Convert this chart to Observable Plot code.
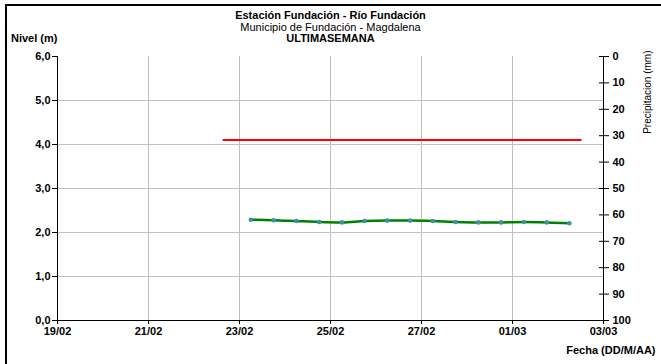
<!DOCTYPE html>
<html><head><meta charset="utf-8">
<script src="https://cdn.jsdelivr.net/npm/d3@7"></script>
<script src="https://cdn.jsdelivr.net/npm/@observablehq/plot@0.6"></script>
<style>
html,body{margin:0;padding:0;background:#fff;overflow:hidden}
#wrap{position:relative;width:661px;height:364px;overflow:hidden;font-family:"Liberation Sans",Arial,sans-serif;color:#000}
#frame{position:absolute;left:5px;top:4px;width:700px;height:400px;border:2px solid #000;pointer-events:none}
#head{position:relative;height:46px}
.t{position:absolute;left:0;width:661px;text-align:center;font-size:11px;line-height:12px;white-space:nowrap}
.b{font-weight:bold}
#nivel{position:absolute;left:11px;top:32px;font-size:11px;font-weight:bold;line-height:12px}
svg{display:block}
</style>
</head><body>
<div id="wrap">
  <div id="head">
    <div class="t b" style="top:9px">Estación Fundación - Río Fundación</div>
    <div class="t" style="top:21px">Municipio de Fundación - Magdalena</div>
    <div class="t b" style="top:32px">ULTIMASEMANA</div>
    <div id="nivel">Nivel (m)</div>
  </div>
  <div id="chart"></div>
  <div id="frame"></div>
</div>
<script>
// ---- data ----
const levelTimes = ["2023-02-23T06:00Z","2023-02-23T18:00Z","2023-02-24T06:00Z","2023-02-24T18:00Z","2023-02-25T06:00Z","2023-02-25T18:00Z","2023-02-26T06:00Z","2023-02-26T18:00Z","2023-02-27T06:00Z","2023-02-27T18:00Z","2023-02-28T06:00Z","2023-02-28T18:00Z","2023-03-01T06:00Z","2023-03-01T18:00Z","2023-03-02T06:00Z"];
const levelValues = [2.29,2.28,2.26,2.24,2.23,2.26,2.27,2.27,2.26,2.24,2.23,2.23,2.24,2.23,2.21];
const alertTimes = ["2023-02-22T15:30Z","2023-03-02T12:00Z"];
const alertValues = [4.1,4.1];
const dateTicks = ["2023-02-19","2023-02-21","2023-02-23","2023-02-25","2023-02-27","2023-03-01","2023-03-03"];
const levelTicks = [0,1,2,3,4,5,6];
const precipTicks = [0,10,20,30,40,50,60,70,80,90,100];
const dateDomain = ["2023-02-19","2023-03-03"];
const levelMax = 6, precipMax = 100;

// ---- build ----
const toDate = s => new Date(s.length === 10 ? s + "T00:00Z" : s);
const levelData = levelTimes.map((t, i) => ({t: toDate(t), v: levelValues[i]}));
const alertData = alertTimes.map((t, i) => ({t: toDate(t), v: alertValues[i]}));
const xTicks = dateTicks.map(toDate);
const pToLevel = p => levelMax - p * levelMax / precipMax;
const levelToP = l => Math.round((levelMax - l) * precipMax / levelMax);
const font = '"Liberation Sans", Arial, sans-serif';

const chart = Plot.plot({
  width: 661, height: 318,
  marginTop: 10, marginLeft: 57, marginRight: 58, marginBottom: 44,
  style: {fontFamily: font, fontSize: "11px", fontWeight: "bold", color: "#000", background: "#fff"},
  x: {type: "utc", domain: dateDomain.map(toDate)},
  y: {domain: [0, levelMax]},
  marks: [
    Plot.ruleY(levelTicks.filter(d => d > 0 && d < levelMax), {stroke: "#c0c0c0", strokeOpacity: 1}),
    Plot.ruleX(xTicks.slice(1, -1), {stroke: "#c0c0c0", strokeOpacity: 1}),
    Plot.axisY({ticks: levelTicks, tickFormat: d => d.toFixed(1).replace(".", ","), tickSize: 5, tickPadding: 2, label: null, stroke: "#000"}),
    Plot.axisY({anchor: "right", ticks: precipTicks.map(pToLevel), tickSize: 10, dx: -5, tickFormat: () => "", label: null}),
    Plot.axisY({anchor: "right", ticks: precipTicks.map(pToLevel), tickSize: 0, tickPadding: 9, tickFormat: levelToP, label: null}),
    Plot.axisX({ticks: xTicks, tickFormat: d3.utcFormat("%d/%m"), tickSize: 4, tickPadding: 3, label: null}),
    Plot.ruleX([toDate(dateDomain[0])], {stroke: "#000"}),
    Plot.ruleX([toDate(dateDomain[1])], {stroke: "#000"}),
    Plot.ruleY([0], {stroke: "#000"}),
    Plot.line(alertData, {x: "t", y: "v", stroke: "#ff0000", strokeWidth: 2}),
    Plot.line(levelData, {x: "t", y: "v", stroke: "#008000", strokeWidth: 2.5, curve: "monotone-x"}),
    Plot.dot(levelData, {x: "t", y: "v", r: 2.3, fill: "#3a93a6", stroke: "none"}),
    Plot.text(["Precipitacion (mm)"], {frameAnchor: "top-right", rotate: -90, textAnchor: "end", lineAnchor: "middle", dx: 44, dy: -6, fontWeight: "normal", fontSize: 10}),
    Plot.text(["Fecha (DD/M/AA)"], {frameAnchor: "bottom-right", textAnchor: "end", lineAnchor: "middle", dx: 52, dy: 30})
  ]
});
document.getElementById("chart").appendChild(chart);
</script>
</body></html>
